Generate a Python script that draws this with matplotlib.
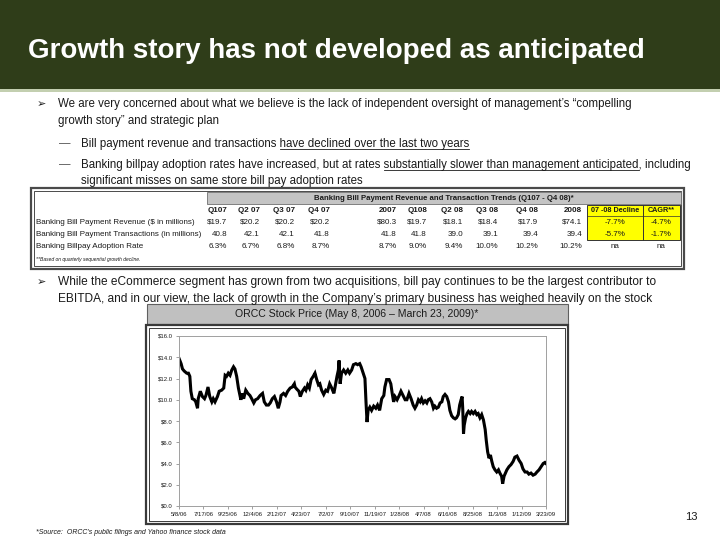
import pandas as pd
import matplotlib
matplotlib.use('Agg')
import matplotlib.pyplot as plt
from matplotlib.patches import Rectangle

# table data
col_labels = ['Q107', 'Q2 07', 'Q3 07', 'Q4 07', '2007', 'Q108', 'Q2 08', 'Q3 08', 'Q4 08', '2008',
              '07 -08 Decline', 'CAGR**']
row_labels = ['Banking Bill Payment Revenue ($ in millions)',
              'Banking Bill Payment Transactions (in millions)',
              'Banking Billpay Adoption Rate']
revenue = ['$19.7', '$20.2', '$20.2', '$20.2', '$80.3', '$19.7', '$18.1', '$18.4', '$17.9', '$74.1', '-7.7%', '-4.7%']
transactions = ['40.8', '42.1', '42.1', '41.8', '41.8', '41.8', '39.0', '39.1', '39.4', '39.4', '-5.7%', '-1.7%']
adoption = ['6.3%', '6.7%', '6.8%', '8.7%', '8.7%', '9.0%', '9.4%', '10.0%', '10.2%', '10.2%', 'na', 'na']

# ORCC stock price (days after 5/8/06, price in $)
days = [0, 6, 10, 15, 22, 27, 31, 34, 38, 44, 48, 53, 55, 61, 67, 73, 77, 83, 88, 94, 98, 103, 110, 115,
        122, 128, 132, 136, 141, 146, 151, 156, 160, 165, 170, 175, 177, 181, 185, 191, 197, 203, 208,
        214, 219, 225, 232, 239, 244, 250, 256, 261, 267, 273, 279, 284, 289, 292, 299, 305, 311, 318,
        324, 330,
        332, 337, 343, 347, 353, 359, 363, 368, 373, 378, 384, 389, 394, 399, 403, 408, 414, 420, 425,
        431, 437, 443, 446, 452, 456, 458, 461, 465, 471, 477, 483, 488, 494, 499, 506, 511, 517, 521,
        526, 529, 532, 535, 538, 541, 546, 551, 557, 563, 568, 574, 580, 586, 589, 594, 601, 606, 610,
        614, 618, 624, 630, 635, 641, 647, 652, 658, 664, 670,
        675, 680, 685, 690, 694, 699, 704, 709, 713, 718, 723, 728, 732, 737, 742, 747, 752, 756, 761,
        766, 771, 775, 780, 785, 790, 794, 799, 803, 807, 810, 812, 814, 816, 820, 824, 828, 833, 837,
        842, 847, 852, 856, 861, 866, 871, 876, 879, 883, 887, 891, 895, 899, 904, 909, 914, 918, 923,
        926, 930, 934, 938, 944, 950, 956, 961, 967, 973, 979, 984, 990, 996, 1001, 1007, 1013, 1019,
        1024, 1030, 1036, 1042, 1047, 1050]
price = [13.9, 13.4, 12.9, 12.7, 12.5, 12.5, 12.2, 10.8, 10.1, 10.0, 9.8, 9.2, 10.1, 10.8, 10.3, 10.1,
         10.4, 11.2, 10.3, 9.8, 10.1, 9.8, 10.3, 10.8, 10.9, 11.1, 12.3, 12.2, 12.5, 12.3, 12.8, 13.1,
         12.9, 12.2, 11.1, 10.3, 10.0, 10.6, 10.1, 10.9, 10.6, 10.4, 10.1, 9.7, 10.0, 10.1, 10.4, 10.6,
         9.8, 9.5, 9.5, 9.7, 10.1, 10.3, 9.8, 9.2, 9.8, 10.4, 10.6, 10.4, 10.8, 11.1, 11.2, 11.5,
         11.2, 11.0, 10.8, 10.3, 10.8, 11.1, 10.9, 11.4, 11.1, 11.9, 12.2, 12.5, 11.9, 11.4, 11.5, 10.9,
         10.5, 10.9, 10.8, 11.5, 11.1, 10.6, 11.1, 12.2, 12.8, 13.7, 11.5, 12.5, 12.8, 12.5, 12.8, 12.5,
         12.8, 13.3, 13.4, 13.3, 13.4, 13.1, 12.6, 12.3, 12.0, 9.8, 7.9, 9.0, 9.3, 9.0, 9.4, 9.2, 9.5,
         9.0, 10.1, 10.4, 11.2, 11.9, 11.9, 11.5, 10.6, 9.8, 10.3, 10.0, 10.4, 10.8, 10.4, 10.0, 10.0,
         10.6, 10.1, 9.5,
         9.2, 9.5, 10.0, 9.8, 10.1, 9.7, 9.9, 9.7, 10.0, 10.1, 9.8, 9.2, 9.4, 9.2, 9.3, 9.7, 9.8, 10.3,
         10.5, 10.3, 9.8, 9.0, 8.5, 8.3, 8.2, 8.3, 8.6, 9.5, 10.0, 10.3, 9.0, 6.8, 7.6, 8.3, 8.7, 8.9,
         8.7, 8.9, 8.7, 8.9, 8.6, 8.7, 8.3, 8.6, 8.1, 7.2, 6.2, 5.1, 4.5, 4.8, 4.2, 3.7, 3.4, 3.2, 3.4,
         3.1, 2.8, 2.1, 2.8, 3.1, 3.4, 3.7, 3.9, 4.2, 4.6, 4.7, 4.3, 4.0, 3.5, 3.2, 3.2, 3.0, 3.1, 2.9,
         3.0, 3.2, 3.4, 3.7, 4.0, 4.1, 4.0]
tick_dates = ['2006-05-08', '2006-07-17', '2006-09-25', '2006-12-04', '2007-02-12', '2007-04-23',
              '2007-07-02', '2007-09-10', '2007-11-19', '2008-01-28', '2008-04-07', '2008-06-16',
              '2008-08-25', '2008-11-03', '2009-01-12', '2009-03-23']

FONT = ['Liberation Sans', 'DejaVu Sans']
TXT = '#1a1a1a'

fig = plt.figure(figsize=(7.2, 5.4), dpi=100)
bg = fig.add_axes([0, 0, 1, 1])  # whole slide in pixel coordinates
bg.set_xlim(0, 720)
bg.set_ylim(540, 0)
bg.axis('off')
renderer = fig.canvas.get_renderer()


def text_width(s, **kw):
    t = bg.text(0, 0, s + 'x', **kw)
    t2 = bg.text(0, 0, 'x', **kw)
    w = t.get_window_extent(renderer=renderer).width - t2.get_window_extent(renderer=renderer).width
    t.remove()
    t2.remove()
    return w * 720 / fig.bbox.width


def line_with_underline(x, y, before, under, after, **kw):
    bg.text(x, y, before + under + after, ha='left', va='baseline', **kw)
    x0 = x + text_width(before, **kw)
    x1 = x + text_width(before + under, **kw)
    bg.plot([x0, x1], [y + 1.8, y + 1.8], color=TXT, lw=0.6)


# header bar
bg.add_patch(Rectangle((0, 0), 720, 89, facecolor='#2f3d19', edgecolor='none'))
bg.add_patch(Rectangle((0, 89), 720, 3, facecolor='#c3cfb0', edgecolor='none'))
bg.text(28, 51, 'Growth story has not developed as anticipated', color='white', fontsize=20,
        fontweight='bold', family=FONT, ha='left', va='center')

# bullets
body = dict(fontsize=8.3, color=TXT, family=FONT)
bg.text(37, 107, '\u27a2', ha='left', va='baseline', fontsize=8, color=TXT, family=['DejaVu Sans'])
bg.text(58, 107, 'We are very concerned about what we believe is the lack of independent oversight of '
        'management\u2019s \u201ccompelling', ha='left', va='baseline', **body)
bg.text(58, 124, 'growth story\u201d and strategic plan', ha='left', va='baseline', **body)
bg.text(59, 147, '\u2014', ha='left', va='baseline', fontsize=8.3, color='#555555', family=FONT)
line_with_underline(81, 147, 'Bill payment revenue and transactions ', 'have declined over the last two years',
                    '', **body)
bg.text(59, 168, '\u2014', ha='left', va='baseline', fontsize=8.3, color='#555555', family=FONT)
line_with_underline(81, 168, 'Banking billpay adoption rates have increased, but at rates ',
                    'substantially slower than management anticipated', ', including', **body)
bg.text(81, 184, 'significant misses on same store bill pay adoption rates', ha='left', va='baseline', **body)

# table frame
bg.add_patch(Rectangle((31, 188), 653, 81, facecolor='white', edgecolor='#4a4a4a', lw=1.6))
bg.add_patch(Rectangle((34, 191), 647, 75, facecolor='none', edgecolor='#4a4a4a', lw=0.7))
bg.add_patch(Rectangle((207, 192), 474, 12, facecolor='#c4c4c4', edgecolor='#707070', lw=0.6))
bg.text(444, 198.5, 'Banking Bill Payment Revenue and Transaction Trends (Q107 - Q4 08)*', ha='center',
        va='center', fontsize=5.6, fontweight='bold', color=TXT, family=FONT)
# yellow cells
bg.add_patch(Rectangle((587, 205), 93, 35, facecolor='#ffff00', edgecolor='#333333', lw=0.7))
bg.plot([643, 643], [205, 240], color='#333333', lw=0.7)
bg.plot([587, 680], [216, 216], color='#333333', lw=0.5)

col_right = [227, 260, 295, 330, 397, 427, 463, 498, 538, 582]
col_center = [615, 661]
row_y = [222, 234, 247]
tbl = dict(fontsize=5.8, color=TXT, family=FONT, va='center')
for i, lab in enumerate(col_labels):
    if i < len(col_right):
        bg.text(col_right[i], 211, lab, ha='right', fontweight='bold', **tbl)
    else:
        bg.text(col_center[i - len(col_right)], 211, lab, ha='center', fontweight='bold',
                **dict(tbl, fontsize=5.2))
for r, vals in enumerate([revenue, transactions, adoption]):
    bg.text(36, row_y[r], row_labels[r], ha='left', **tbl)
    for i, v in enumerate(vals):
        if i < len(col_right):
            bg.text(col_right[i], row_y[r], v, ha='right', **tbl)
        else:
            bg.text(col_center[i - len(col_right)], row_y[r], v, ha='center', **tbl)
bg.text(36, 260, '**Based on quarterly sequential growth decline.', ha='left', va='center', fontsize=3.6,
        style='italic', color=TXT, family=FONT)

# third bullet
bg.text(37, 285, '\u27a2', ha='left', va='baseline', fontsize=8, color=TXT, family=['DejaVu Sans'])
bg.text(58, 285, 'While the eCommerce segment has grown from two acquisitions, bill pay continues to be the '
        'largest contributor to', ha='left', va='baseline', **dict(body, fontsize=8.6))
bg.text(58, 302, 'EBITDA, and in our view, the lack of growth in the Company\u2019s primary business has '
        'weighed heavily on the stock', ha='left', va='baseline', **dict(body, fontsize=8.6))

# chart frame
bg.add_patch(Rectangle((147, 304), 421, 20, facecolor='#c0c0c0', edgecolor='#606060', lw=0.8))
bg.text(357, 314, 'ORCC Stock Price (May 8, 2006 \u2013 March 23, 2009)*', ha='center', va='center',
        fontsize=7.6, color=TXT, family=FONT)
bg.add_patch(Rectangle((146, 325), 422, 199, facecolor='white', edgecolor='#3a3a3a', lw=1.6))
bg.add_patch(Rectangle((149, 328), 416, 193, facecolor='none', edgecolor='#3a3a3a', lw=0.7))

# page number and source
bg.text(691, 517, '13', ha='center', va='center', fontsize=8, color=TXT, family=FONT)
bg.text(36, 533, '*Source:  ORCC\u2019s public filings and Yahoo finance stock data', ha='left', va='center',
        fontsize=5.0, style='italic', color=TXT, family=FONT)

# stock chart
ax = fig.add_axes([179 / 720, 1 - 506 / 540, (546 - 179) / 720, (506 - 336) / 540])
dates = pd.Timestamp('2006-05-08') + pd.to_timedelta(days, unit='D')
ax.plot(dates, price, color='black', lw=2.2, solid_joinstyle='miter')
ax.set_xlim(pd.Timestamp(tick_dates[0]), pd.Timestamp(tick_dates[-1]))
ax.set_ylim(0, 16)
ax.set_yticks(range(0, 17, 2))
ax.set_yticklabels(['$%.1f' % v for v in range(0, 17, 2)])
ax.set_xticks(pd.to_datetime(tick_dates))
ax.set_xticklabels([pd.Timestamp(d).strftime('%-m/%-d/%y') for d in tick_dates])
for s in ax.spines.values():
    s.set_color('#a0a0a0')
    s.set_linewidth(0.7)
ax.tick_params(length=2.5, width=0.6, color='#909090', labelsize=4.3, labelcolor=TXT, pad=2)
for lab in ax.get_xticklabels() + ax.get_yticklabels():
    lab.set_family(FONT)

fig.savefig('out.png', dpi=100)
